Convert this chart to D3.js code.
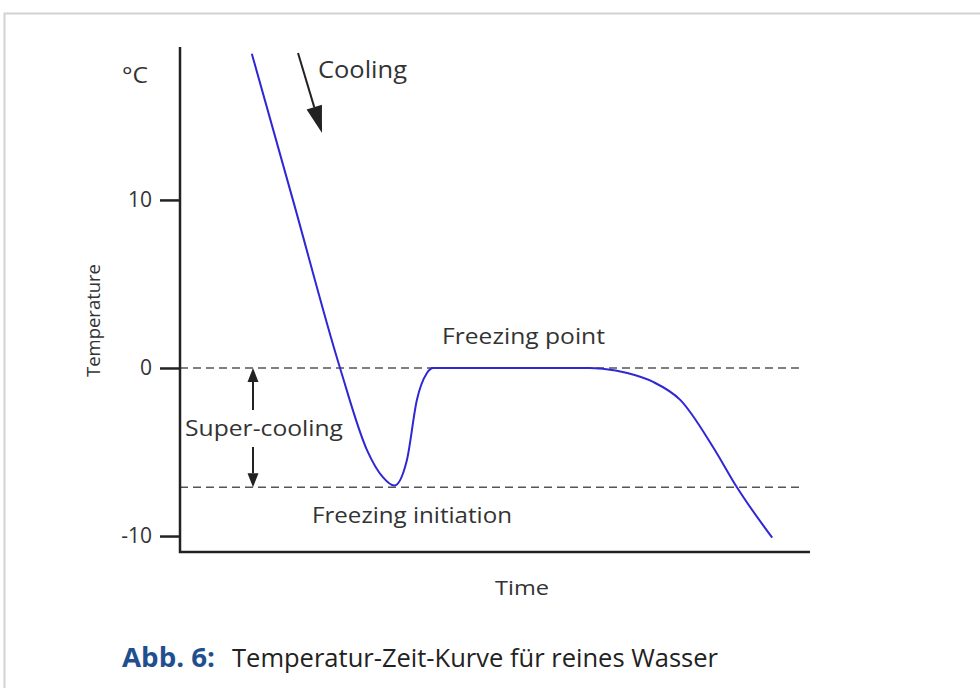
<!DOCTYPE html>
<html>
<head>
<meta charset="utf-8">
<script src="https://cdn.jsdelivr.net/npm/d3@7"></script>
<style>
  body { margin: 0; background: #fff; }
  text { font-family: "Open Sans", "Noto Sans", sans-serif; fill: #333; }
</style>
</head>
<body>
<div id="chart"></div>
<script>
// curve data (time in arbitrary units, temperature in °C)
var timeVals = [11.4, 18, 25.4, 29.7, 32.2, 34.0, 36.0, 37.6, 39.2, 40.2, 45, 55, 65, 67.1, 71, 75.1, 79.4, 84.6, 88.4, 94];
var tempVals = [18.7, 9.9, 0, -4.9, -6.5, -7.0, -5.5, -1.9, -0.3, 0, 0, 0, 0, -0.05, -0.3, -0.83, -1.9, -4.7, -7.1, -10.1];
var yTicks = [-10, 0, 10];
var freezingPoint = 0;
var freezingInit = -7.1;

var svgWidth = 980;
var svgHeight = 688;

var svg = d3.select("#chart")
  .append("svg")
  .attr("width", svgWidth)
  .attr("height", svgHeight);

// light frame around the figure
svg.append("rect")
  .attr("x", 4.5)
  .attr("y", 13.5)
  .attr("width", 1000)
  .attr("height", 700)
  .attr("fill", "none")
  .attr("stroke", "#d2d2d2")
  .attr("stroke-width", 2);

var xScale = d3.scaleLinear()
  .domain([0, 100])
  .range([180, 810]);

var yScale = d3.scaleLinear()
  .domain([-10.95, 19.1])
  .range([552, 47]);

var data = timeVals.map(function(t, i) { return {t: t, v: tempVals[i]}; });

// dashed reference lines
[freezingPoint, freezingInit].forEach(function(v) {
  svg.append("line")
    .attr("x1", xScale(0))
    .attr("x2", xScale(98.7))
    .attr("y1", yScale(v))
    .attr("y2", yScale(v))
    .attr("stroke", "#555")
    .attr("stroke-width", 1.6)
    .attr("stroke-dasharray", "8,5");
});

// axes
var leftAxis = d3.axisLeft(yScale)
  .tickValues(yTicks)
  .tickSize(20)
  .tickPadding(8)
  .tickFormat(d => String(d));

var yAxisG = svg.append("g")
  .attr("transform", "translate(180,0)")
  .call(leftAxis);
yAxisG.select(".domain").remove();
yAxisG.selectAll(".tick line").attr("stroke", "#222").attr("stroke-width", 2.5);
yAxisG.selectAll(".tick text")
  .style("font-family", "'Open Sans', sans-serif")
  .style("font-size", "21px")
  .attr("fill", "#333");

svg.append("path")
  .attr("d", "M" + xScale(0) + "," + yScale(19.1) + "V" + yScale(-10.95) + "H" + xScale(100))
  .attr("fill", "none")
  .attr("stroke", "#222")
  .attr("stroke-width", 2.5);

// curve
var line = d3.line()
  .x(d => xScale(d.t))
  .y(d => yScale(d.v))
  .curve(d3.curveMonotoneX);

svg.append("path")
  .datum(data)
  .attr("d", line)
  .attr("fill", "none")
  .attr("stroke", "#2f27d4")
  .attr("stroke-width", 2);

// arrow: shaft plus a filled triangular head
function arrow(x1, y1, x2, y2, headLen, headW) {
  var dx = x2 - x1, dy = y2 - y1;
  var len = Math.sqrt(dx * dx + dy * dy);
  var ux = dx / len, uy = dy / len;
  var bx = x2 - ux * headLen, by = y2 - uy * headLen;
  svg.append("line")
    .attr("x1", x1).attr("y1", y1)
    .attr("x2", bx).attr("y2", by)
    .attr("stroke", "#222")
    .attr("stroke-width", 2);
  svg.append("path")
    .attr("d", "M" + x2 + "," + y2 +
      "L" + (bx - uy * headW / 2) + "," + (by + ux * headW / 2) +
      "L" + (bx + uy * headW / 2) + "," + (by - ux * headW / 2) + "Z")
    .attr("fill", "#222");
}

arrow(298, 53, 322, 133, 27, 16);
arrow(253, 410, 253, yScale(freezingPoint), 14, 11);
arrow(253, 447, 253, yScale(freezingInit), 14, 11);

// labels
function label(x, y, txt, size, len) {
  return svg.append("text")
    .attr("x", x)
    .attr("y", y)
    .attr("textLength", len)
    .attr("lengthAdjust", "spacingAndGlyphs")
    .style("font-size", size + "px")
    .text(txt);
}

label(318, 78, "Cooling", 23, 89);
label(122, 83, "°C", 22, 26);
label(442, 344, "Freezing point", 22, 163);
label(185, 436, "Super-cooling", 22, 158);
label(312, 523, "Freezing initiation", 22, 200);
label(495, 595, "Time", 20, 54);

svg.append("text")
  .attr("transform", "translate(100,321) rotate(-90)")
  .attr("x", -56)
  .attr("textLength", 113)
  .attr("lengthAdjust", "spacingAndGlyphs")
  .style("font-size", "19px")
  .text("Temperature");

// caption
svg.append("text")
  .attr("x", 122)
  .attr("y", 667)
  .attr("textLength", 93)
  .attr("lengthAdjust", "spacingAndGlyphs")
  .style("font-size", "26px")
  .style("font-weight", "bold")
  .style("fill", "#1f4f8e")
  .text("Abb. 6:");

svg.append("text")
  .attr("x", 232)
  .attr("y", 667)
  .attr("textLength", 486)
  .attr("lengthAdjust", "spacingAndGlyphs")
  .style("font-size", "26px")
  .style("fill", "#222")
  .text("Temperatur-Zeit-Kurve für reines Wasser");
</script>
</body>
</html>
